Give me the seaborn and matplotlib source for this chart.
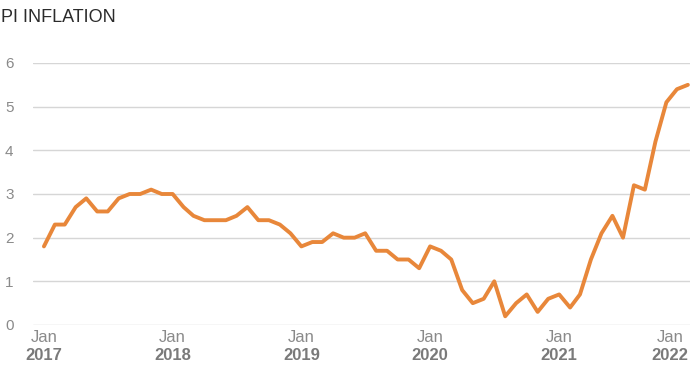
import pandas as pd
import matplotlib
matplotlib.use("Agg")
import matplotlib.pyplot as plt
import matplotlib.dates as mdates
import matplotlib.transforms as mtransforms
import seaborn as sns

# monthly CPI inflation, Jan 2017 - Jan 2022
cpi_2017 = [1.8, 2.3, 2.3, 2.7, 2.9, 2.6, 2.6, 2.9, 3.0, 3.0, 3.1, 3.0]
cpi_2018 = [3.0, 2.7, 2.5, 2.4, 2.4, 2.4, 2.5, 2.7, 2.4, 2.4, 2.3, 2.1]
cpi_2019 = [1.8, 1.9, 1.9, 2.1, 2.0, 2.0, 2.1, 1.7, 1.7, 1.5, 1.5, 1.3]
cpi_2020 = [1.8, 1.7, 1.5, 0.8, 0.5, 0.6, 1.0, 0.2, 0.5, 0.7, 0.3, 0.6]
cpi_2021 = [0.7, 0.4, 0.7, 1.5, 2.1, 2.5, 2.0, 3.2, 3.1, 4.2, 5.1, 5.4]
cpi_2022 = [5.5]

years = ["2017", "2018", "2019", "2020", "2021", "2022"]
y_ticks = [0, 1, 2, 3, 4, 5, 6]
title = "PI INFLATION"

values = cpi_2017 + cpi_2018 + cpi_2019 + cpi_2020 + cpi_2021 + cpi_2022
dates = pd.date_range("2017-01-01", periods=len(values), freq="MS")
df = pd.DataFrame({"date": dates, "cpi": values})

sns.set_style("white")
plt.rcParams["font.family"] = ["Liberation Sans", "DejaVu Sans"]

fig = plt.figure(figsize=(6.96, 3.85), dpi=100)
ax = fig.add_axes([33 / 696, 1 - 325 / 385, (690 - 33) / 696, (325 - 63) / 385])

sns.lineplot(data=df, x="date", y="cpi", ax=ax, color="#E8873A", linewidth=2.8)

ax.set_ylim(0, 6)
ax.set_xlim(pd.Timestamp("2017-01-01") - pd.Timedelta(days=31),
            pd.Timestamp("2022-01-01") + pd.Timedelta(days=6))
ax.set_yticks(y_ticks)
ax.set_yticklabels([str(t) for t in y_ticks], color="#8a8a8a", fontsize=11)
ax.tick_params(axis="y", length=0, pad=14)
ax.grid(axis="y", color="#d6d6d6", linewidth=1)
ax.grid(axis="x", visible=False)
for s in ax.spines.values():
    s.set_visible(False)

tick_dates = [pd.Timestamp(f"{y}-01-01") for y in years]
ax.set_xticks(tick_dates)
ax.set_xticklabels([])
ax.tick_params(axis="x", length=0)
ax.set_xlabel("")
ax.set_ylabel("")

trans = mtransforms.blended_transform_factory(ax.transData, fig.transFigure)
for i, (d, y) in enumerate(zip(tick_dates, years)):
    last = i == len(years) - 1
    x = mdates.date2num(d)
    if last:
        ax.text(x - 12, 1 - 338 / 385, "Jan", transform=trans, ha="right", va="center",
                fontsize=12, color="#8a8a8a", clip_on=False)
        ax.text(x, 1 - 355 / 385, y, transform=trans, ha="right", va="center",
                fontsize=12, fontweight="bold", color="#7a7a7a", clip_on=False)
    else:
        ax.text(x, 1 - 338 / 385, "Jan", transform=trans, ha="center", va="center",
                fontsize=12, color="#8a8a8a", clip_on=False)
        ax.text(x, 1 - 355 / 385, y, transform=trans, ha="center", va="center",
                fontsize=12, fontweight="bold", color="#7a7a7a", clip_on=False)

fig.text(1 / 696, 1 - 18 / 385, title, ha="left", va="center",
         fontsize=13, color="#2b2b2b")

fig.savefig("out.png", dpi=100)
plt.close(fig)
